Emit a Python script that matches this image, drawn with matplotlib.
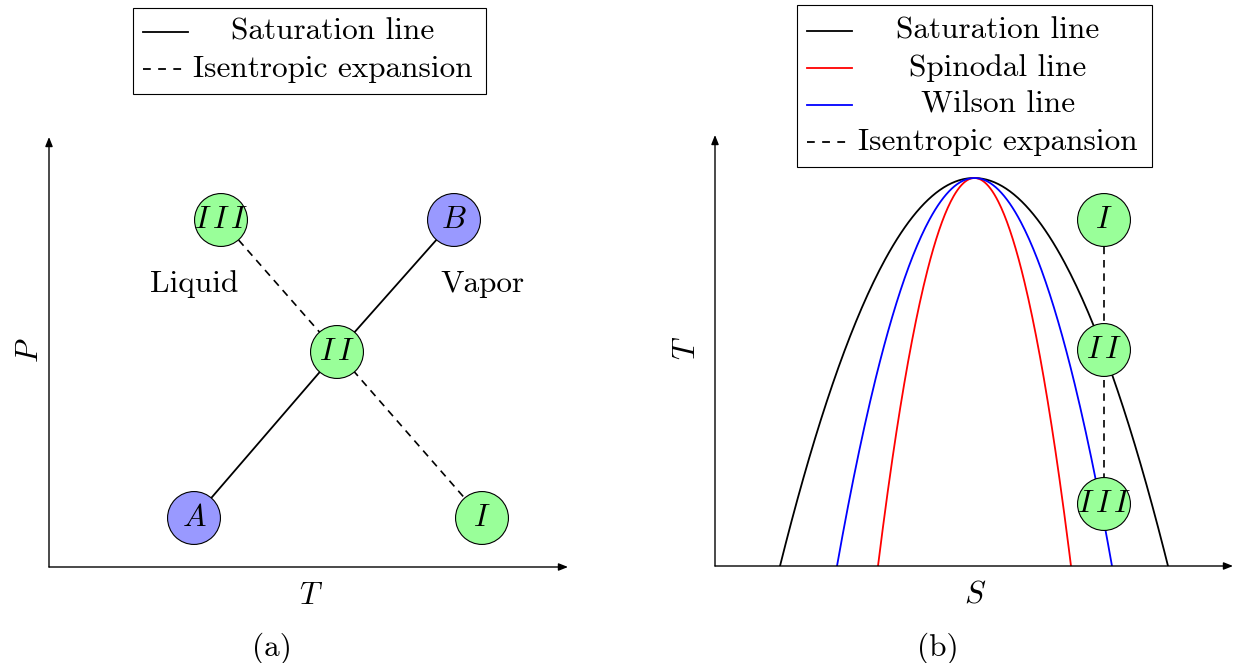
import matplotlib.pyplot as plt
import numpy as np
from matplotlib.patches import Rectangle

plt.rcParams['font.family'] = ['cmr10', 'DejaVu Serif']
plt.rcParams['mathtext.fontset'] = 'cm'
plt.rcParams['axes.formatter.use_mathtext'] = True

W, H = 1238, 663
FS = 22.5

# panel (a): P-T diagram, node positions (T, P) in drawing units
nodes_a = ["A", "II", "B", "III", "I"]
nodes_a_x = [14.5, 28.8, 40.5, 17.2, 43.3]
nodes_a_y = [4.9, 21.5, 34.7, 34.7, 4.9]
nodes_a_col = ["blue", "green", "blue", "green", "green"]
sat_a = ["A", "II", "B"]
isen_a = ["III", "II", "I"]
regions_a = ["Liquid", "Vapor"]
regions_a_x = [14.5, 43.3]
regions_a_y = [28.3, 28.3]

# panel (b): T-S diagram, dome curves given by root entropies and the critical point
crit_s, crit_t = 25.8, 38.8
curve_names = ["Saturation line", "Spinodal line", "Wilson line"]
curve_cols = ["black", "red", "blue"]
curve_left = [6.5, 16.3, 12.2]
curve_right = [45.3, 35.6, 39.7]
nodes_b = ["I", "II", "III"]
nodes_b_x = [38.9, 38.9, 38.9]
nodes_b_y = [34.6, 21.6, 6.2]

fill = {"green": "#99ff99", "blue": "#9999ff"}
DASH = (4.5, 3.5)


def panel(x0, y0, xmax, ymax):
    ax = fig.add_axes([x0 / W, (H - y0) / H, xmax * 10 / W, ymax * 10 / H])
    ax.set_xlim(0, xmax)
    ax.set_ylim(0, ymax)
    ax.axis("off")
    arr = dict(arrowstyle="-|>,head_length=0.55,head_width=0.22", lw=1.0,
               color="black", shrinkA=0, shrinkB=0)
    ax.annotate("", xy=(xmax, 0), xytext=(0, 0), arrowprops=arr, annotation_clip=False)
    ax.annotate("", xy=(0, ymax), xytext=(0, 0), arrowprops=arr, annotation_clip=False)
    return ax


def math_label(n):
    # roman numerals get a little space between the I's, like LaTeX math italic
    if set(n) == {"I"} and len(n) > 1:
        return "$" + r"\,".join(n) + "$"
    return "$" + n + "$"


def draw_nodes(ax, names, xs, ys, cols):
    ax.scatter(xs, ys, s=1450, c=[fill[c] for c in cols], edgecolors="black",
               linewidths=0.8, zorder=5, clip_on=False)
    for n, x, y in zip(names, xs, ys):
        ax.text(x, y, math_label(n), ha="center", va="center", fontsize=FS, zorder=6)


fig = plt.figure(figsize=(W / 100, H / 100), dpi=100)

# ---- panel (a)
ax_a = panel(49, 567, 51.9, 43.0)
pos = dict(zip(nodes_a, zip(nodes_a_x, nodes_a_y)))
ax_a.plot([pos[n][0] for n in sat_a], [pos[n][1] for n in sat_a], color="black", lw=1.3)
ax_a.plot([pos[n][0] for n in isen_a], [pos[n][1] for n in isen_a], color="black",
          lw=1.2, dashes=DASH)
draw_nodes(ax_a, nodes_a, nodes_a_x, nodes_a_y, nodes_a_col)
for t, x, y in zip(regions_a, regions_a_x, regions_a_y):
    ax_a.text(x, y, t, ha="center", va="center", fontsize=FS)
ax_a.text(-1.9, 21.7, "$P$", rotation=90, ha="center", va="center", fontsize=FS)
ax_a.text(26.2, -2.9, "$T$", ha="center", va="center", fontsize=FS)
ax_a.text(22.3, -8.1, "(a)", ha="center", va="center", fontsize=FS)

# ---- panel (b)
ax_b = panel(715, 566, 51.8, 43.1)
for name, col, lft, rgt in zip(curve_names, curve_cols, curve_left, curve_right):
    s = np.linspace(lft, rgt, 200)
    half = (rgt - lft) / 2
    t = crit_t * (1 - ((s - (lft + rgt) / 2) / half) ** 2)
    ax_b.plot(s, t, color=col, lw=1.3)
ax_b.plot(nodes_b_x, nodes_b_y, color="black", lw=1.2, dashes=DASH)
draw_nodes(ax_b, nodes_b, nodes_b_x, nodes_b_y, ["green"] * 3)
ax_b.text(-2.8, 21.8, "$T$", rotation=90, ha="center", va="center", fontsize=FS)
ax_b.text(26.0, -2.9, "$S$", ha="center", va="center", fontsize=FS)
ax_b.text(22.3, -8.2, "(b)", ha="center", va="center", fontsize=FS)

# ---- legends (drawn in pixel space)
ov = fig.add_axes([0, 0, 1, 1], zorder=10)
ov.set_xlim(0, W)
ov.set_ylim(H, 0)
ov.axis("off")
ov.patch.set_alpha(0)


def legend(x0, y0, x1, y1, rows, labels, styles, text_x):
    ov.add_patch(Rectangle((x0, y0), x1 - x0, y1 - y0, fill=False, lw=0.8, ec="black"))
    for yy, lab, (col, dash) in zip(rows, labels, styles):
        if dash:
            ov.plot([x0 + 10, x0 + 50], [yy, yy], color=col, lw=1.3, dashes=(4.3, 4.1))
        else:
            ov.plot([x0 + 10, x0 + 55], [yy, yy], color=col, lw=1.3)
        ov.text(text_x, yy, lab, ha="center", va="center", fontsize=FS)


legend(133, 8, 486, 94, [32, 69], ["Saturation line", "Isentropic expansion"],
       [("black", False), ("black", True)], 333)
legend(797, 5, 1152, 167, [31, 68, 105, 142], curve_names + ["Isentropic expansion"],
       [(c, False) for c in curve_cols] + [("black", True)], 998)

fig.savefig("out.png", dpi=100)
